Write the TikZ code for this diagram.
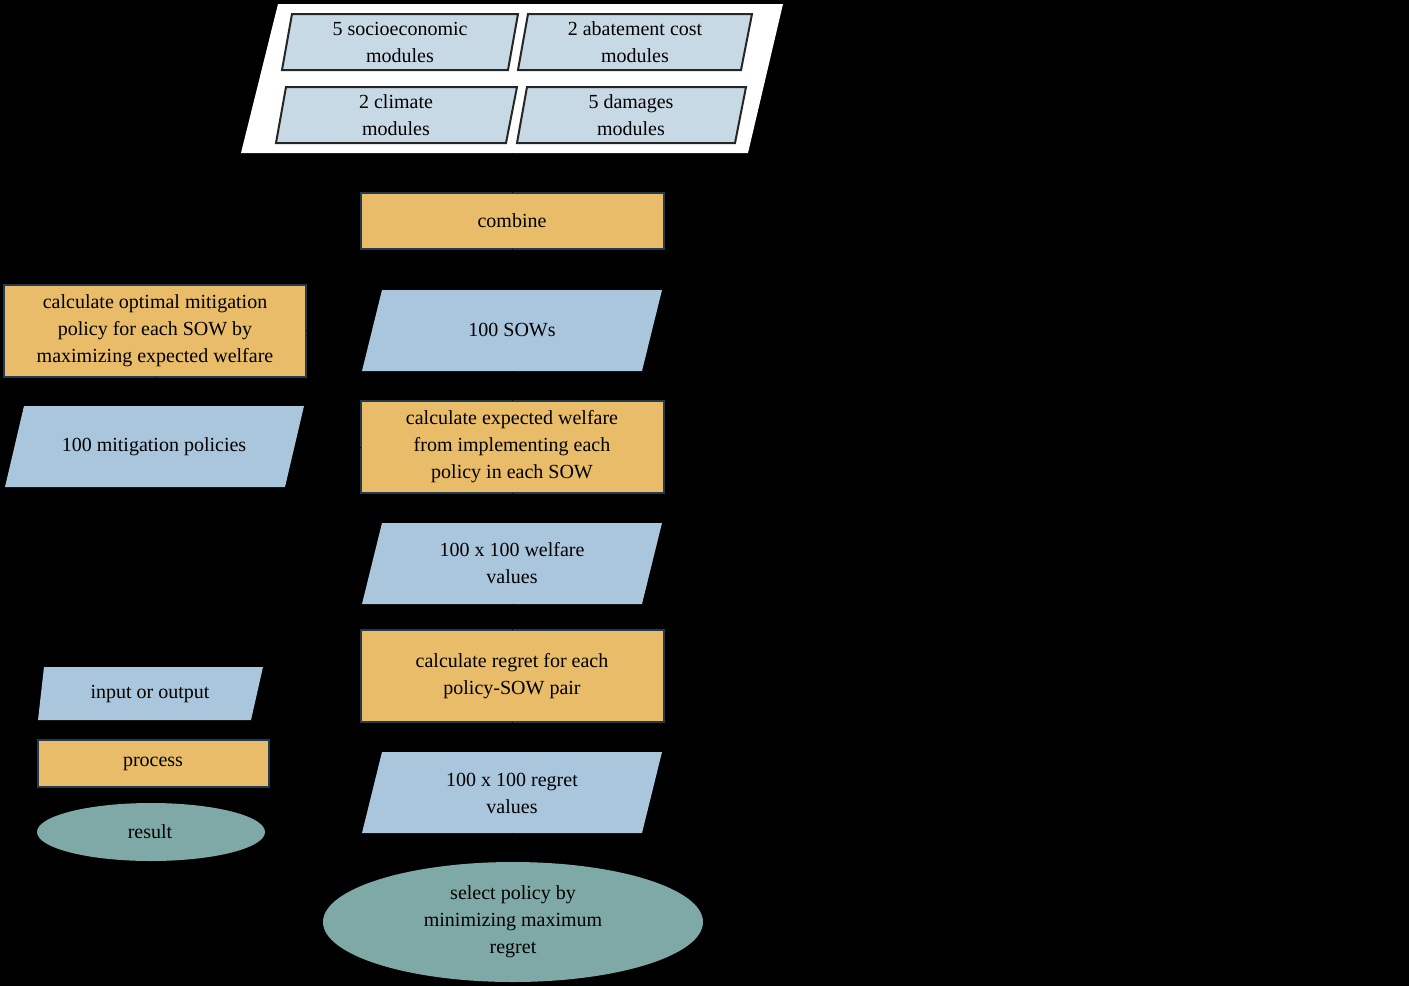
\documentclass[tikz,border=0pt]{standalone}
\usepackage{fontspec}
\setmainfont{Liberation Serif}
\definecolor{proc}{HTML}{E8BC68}
\definecolor{io}{HTML}{A9C6DC}
\definecolor{modc}{HTML}{C8D9E6}
\definecolor{res}{HTML}{7FA9A7}
\definecolor{edge}{HTML}{1F3B4D}
\begin{document}
\begin{tikzpicture}[x=1pt,y=-1pt,
  txt/.style={font=\fontsize{20}{27}\selectfont,align=center,text=black},
  procbox/.style={fill=proc,draw=edge,line width=2pt},
  iobox/.style={fill=io},
  modbox/.style={fill=modc,draw=black!85,line width=2pt},
  conn/.style={draw=black,line width=1pt}]
\fill[black] (0,0) rectangle (1409,986);
\useasboundingbox (0,0) rectangle (1409,986);
% module panel
\fill[white] (278,4) -- (783,4) -- (748,153) -- (241,153) -- cycle;
\draw[modbox] (292,14) -- (518,14) -- (508,70) -- (282,70) -- cycle;
\draw[modbox] (528,14) -- (752,14) -- (741,70) -- (518,70) -- cycle;
\draw[modbox] (286,87) -- (517,87) -- (506,143) -- (276,143) -- cycle;
\draw[modbox] (527,87) -- (746,87) -- (735,143) -- (517,143) -- cycle;
\node[txt] (m1) at (400,42) {5 socioeconomic\\modules};
\node[txt] (m2) at (635,42) {2 abatement cost\\modules};
\node[txt] (m3) at (396,115) {2 climate\\modules};
\node[txt] (m4) at (631,115) {5 damages\\modules};
\coordinate (panel) at (512,153);
% main column
\draw[procbox] (361,193) rectangle (664,249);
\node[txt] (comb) at (512,221) {combine};
\fill[iobox] (382,290) -- (662,290) -- (642,371) -- (362,371) -- cycle;
\node[txt] (sows) at (512,330) {100 SOWs};
\draw[procbox] (361,401) rectangle (664,493);
\node[txt] (cew) at (512,447) {calculate expected welfare\\from implementing each\\policy in each SOW};
\fill[iobox] (382,523) -- (662,523) -- (642,604) -- (362,604) -- cycle;
\node[txt] (wel) at (512,563) {100 x 100 welfare\\values};
\draw[procbox] (361,630) rectangle (664,722);
\node[txt] (reg) at (512,676) {calculate regret for each\\policy-SOW pair};
\fill[iobox] (382,752) -- (662,752) -- (642,833) -- (362,833) -- cycle;
\node[txt] (regv) at (512,793) {100 x 100 regret\\values};
\fill[res] (513,922) ellipse [x radius=190, y radius=60];
\node[txt] (sel) at (513,922) {select policy by\\minimizing maximum\\regret};
% left column
\draw[procbox] (4,285) rectangle (306,377);
\node[txt] (opt) at (155,331) {calculate optimal mitigation\\policy for each SOW by\\maximizing expected welfare};
\fill[iobox] (24,406) -- (304,406) -- (285,487) -- (5,487) -- cycle;
\node[txt] (pol) at (154,447) {100 mitigation policies};
% legend
\fill[iobox] (44,667) -- (263,667) -- (251,720) -- (38,720) -- cycle;
\node[txt] (lio) at (150,694) {input or output};
\draw[procbox] (38,740) rectangle (269,787);
\node[txt] (lpr) at (153,764) {process};
\fill[res] (151,832) ellipse [x radius=114, y radius=29];
\node[txt] (lre) at (150,832) {result};
% connectors (black, as in the reference)
\draw[conn] (panel) -- (512,193);
\draw[conn] (512,249) -- (512,290);
\draw[conn] (512,371) -- (512,401);
\draw[conn] (512,493) -- (512,523);
\draw[conn] (512,604) -- (512,630);
\draw[conn] (512,722) -- (512,752);
\draw[conn] (512,833) -- (512,862);
\draw[conn] (367,330) -- (306,330);
\draw[conn] (155,377) -- (155,406);
\draw[conn] (295,447) -- (361,447);
\end{tikzpicture}
\end{document}
